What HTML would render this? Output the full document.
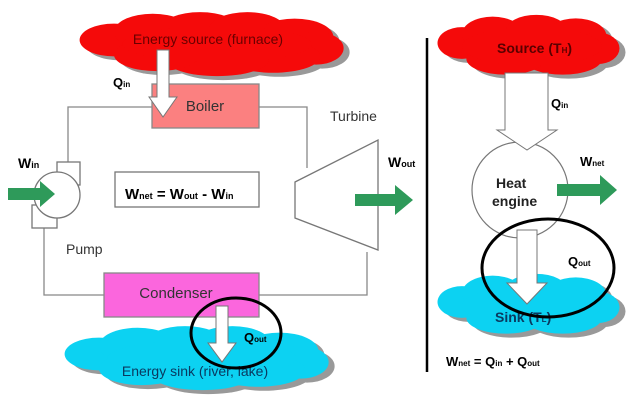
<!DOCTYPE html>
<html><head><style>
html,body{margin:0;padding:0;background:#fff;}
svg{display:block;font-family:"Liberation Sans",sans-serif;}
</style></head><body>
<svg width="635" height="413" viewBox="0 0 635 413" xmlns="http://www.w3.org/2000/svg">
<rect width="635" height="413" fill="#fff"/>
<defs>
<g id="cloudL">
<ellipse cx="0" cy="0" rx="40" ry="20"/><ellipse cx="45" cy="-10" rx="45" ry="22"/><ellipse cx="100" cy="-14" rx="45" ry="20"/>
<ellipse cx="155" cy="-12" rx="45" ry="22"/><ellipse cx="210" cy="-4" rx="45" ry="22"/><ellipse cx="235" cy="10" rx="32" ry="20"/>
<ellipse cx="185" cy="20" rx="55" ry="20"/><ellipse cx="120" cy="24" rx="60" ry="20"/><ellipse cx="50" cy="18" rx="50" ry="20"/><ellipse cx="120" cy="5" rx="110" ry="22"/>
</g>
<g id="cloudR">
<ellipse cx="0" cy="0" rx="28" ry="18"/><ellipse cx="35" cy="-10" rx="35" ry="20"/><ellipse cx="85" cy="-14" rx="35" ry="18"/>
<ellipse cx="130" cy="-8" rx="35" ry="20"/><ellipse cx="155" cy="6" rx="25" ry="18"/><ellipse cx="115" cy="18" rx="45" ry="18"/>
<ellipse cx="50" cy="18" rx="45" ry="18"/><ellipse cx="80" cy="4" rx="80" ry="22"/>
</g>
</defs>
<!-- left clouds -->
<use href="#cloudL" transform="translate(120,44) scale(0.86,0.82)" fill="#999"/>
<use href="#cloudL" transform="translate(114,40) scale(0.86,0.82)" fill="#f50a0a"/>
<text x="208" y="44" font-size="14" text-anchor="middle" fill="#6a0000">Energy source (furnace)</text>
<use href="#cloudL" transform="translate(105,358) scale(0.86,0.82)" fill="#999"/>
<use href="#cloudL" transform="translate(99,354) scale(0.86,0.82)" fill="#0cd2f2"/>
<text x="195" y="376" font-size="14" text-anchor="middle" fill="#0a3a60">Energy sink (river, lake)</text>
<!-- loop lines -->
<g stroke="#888" stroke-width="1.3" fill="none">
<polyline points="68,162 68,107 152,107"/>
<polyline points="259,107 307,107 307,168"/>
<polyline points="367,252 367,295 259,295"/>
<polyline points="104,295 44,295 44,228"/>
</g>
<rect x="152" y="84" width="107" height="44" fill="#fb8080" stroke="#888" stroke-width="1.3"/>
<text x="205" y="111" font-size="15" text-anchor="middle" fill="#333">Boiler</text>
<rect x="104" y="273" width="155" height="44" fill="#fb66dd" stroke="#888" stroke-width="1.3"/>
<text x="176" y="298" font-size="15" text-anchor="middle" fill="#333">Condenser</text>
<!-- pump -->
<rect x="57" y="162" width="23" height="23" fill="#fff" stroke="#777" stroke-width="1.3"/>
<rect x="32" y="205" width="25" height="23" fill="#fff" stroke="#777" stroke-width="1.3"/>
<circle cx="57" cy="195" r="23" fill="#fff" stroke="#777" stroke-width="1.3"/>
<polygon points="8,188 40,188 40,181 55,194 40,207 40,200 8,200" fill="#2e9a5a"/>
<text x="18" y="168" font-size="14" font-weight="bold">W<tspan font-size="9">in</tspan></text>
<text x="66" y="254" font-size="14" fill="#333">Pump</text>
<!-- turbine -->
<polygon points="295,182 378,140 378,250 295,218" fill="#fff" stroke="#777" stroke-width="1.3"/>
<text x="330" y="121" font-size="14" fill="#333">Turbine</text>
<text x="388" y="167" font-size="14" font-weight="bold">W<tspan font-size="9">out</tspan></text>
<polygon points="355,194 395,194 395,185 413,200 395,215 395,206 355,206" fill="#2e9a5a"/>
<!-- wnet box -->
<rect x="115" y="172" width="144" height="35" fill="#fff" stroke="#777" stroke-width="1.3"/>
<text x="125" y="199" font-size="15" font-weight="bold">W<tspan font-size="9">net</tspan> = W<tspan font-size="9">out</tspan> - W<tspan font-size="9">in</tspan></text>
<!-- Qin arrow left -->
<polygon points="157,50 169,50 169,97 177,97 163,117 149,97 157,97" fill="#fff" stroke="#777" stroke-width="1"/>
<text x="113" y="87" font-size="13" font-weight="bold">Q<tspan font-size="8">in</tspan></text>
<!-- Qout arrow left -->
<polygon points="216,306 228,306 228,343 236,343 222,362 208,343 216,343" fill="#fff" stroke="#777" stroke-width="1"/>
<text x="244" y="342" font-size="13" font-weight="bold">Q<tspan font-size="8">out</tspan></text>
<ellipse cx="236" cy="333" rx="45" ry="35" fill="none" stroke="#000" stroke-width="3"/>
<!-- divider -->
<line x1="427" y1="38" x2="427" y2="372" stroke="#000" stroke-width="2.5"/>
<!-- right clouds -->
<use href="#cloudR" transform="translate(468,47) scale(0.875,0.88)" fill="#999"/>
<use href="#cloudR" transform="translate(462,43) scale(0.875,0.88)" fill="#f50a0a"/>
<text x="497" y="53" font-size="14" font-weight="bold" fill="#5a0000">Source (T<tspan font-size="8">H</tspan>)</text>
<use href="#cloudR" transform="translate(468,306) scale(0.875,0.88)" fill="#999"/>
<use href="#cloudR" transform="translate(462,302) scale(0.875,0.88)" fill="#0cd2f2"/>
<text x="495" y="322" font-size="14" font-weight="bold" fill="#0a3a60">Sink (T<tspan font-size="8">L</tspan>)</text>
<!-- heat engine -->
<circle cx="520" cy="190" r="48" fill="#fff" stroke="#777" stroke-width="1.2"/>
<polygon points="505,73 548,73 548,130 557,130 527,150 497,130 505,130" fill="#fff" stroke="#777" stroke-width="1"/>
<text x="551" y="108" font-size="13" font-weight="bold">Q<tspan font-size="8">in</tspan></text>
<text x="496" y="188" font-size="14" font-weight="bold" fill="#222">Heat</text>
<text x="492" y="206" font-size="14" font-weight="bold" fill="#222">engine</text>
<text x="580" y="166" font-size="13" font-weight="bold">W<tspan font-size="8">net</tspan></text>
<polygon points="557,184 600,184 600,175 617,190 600,205 600,196 557,196" fill="#2e9a5a"/>
<polygon points="517,230 537,230 537,283 547,283 527,304 507,283 517,283" fill="#fff" stroke="#777" stroke-width="1"/>
<text x="568" y="266" font-size="13" font-weight="bold">Q<tspan font-size="8">out</tspan></text>
<ellipse cx="548" cy="268" rx="66" ry="49" fill="none" stroke="#000" stroke-width="3"/>
<text x="446" y="366" font-size="13" font-weight="bold">W<tspan font-size="8">net</tspan> = Q<tspan font-size="8">in</tspan> + Q<tspan font-size="8">out</tspan></text>
</svg>
</body></html>
